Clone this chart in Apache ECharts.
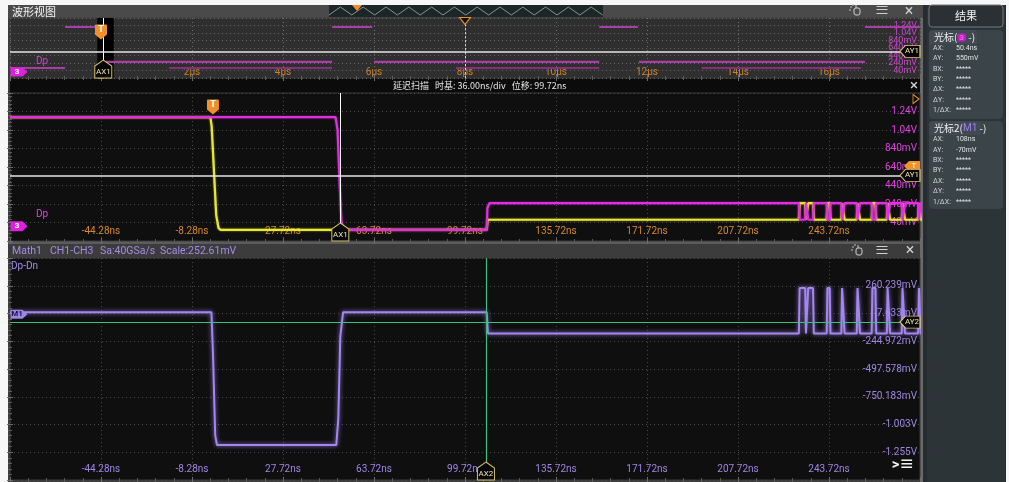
<!DOCTYPE html>
<html>
<head>
<meta charset="utf-8">
<script src="https://cdn.jsdelivr.net/npm/echarts@6/dist/echarts.min.js"></script>
<style>
html,body{margin:0;padding:0;background:#f7f7f7;}
#c{width:1009px;height:482px;}
</style>
</head>
<body>
<div id="c"></div>
<script>
// ---------- axis ranges and tick labels ----------
const mainTimeRange = [-80.28, 279.72];      // ns, 36 ns/div
const overviewTimeRange = [-2, 18];           // µs, 2 µs/div
const chVoltRange = [-0.16, 1.44];            // V, 200 mV/div
const mathVoltRange = [-1.507996, 0.512844];  // V, 252.605 mV/div

const mainTimeLabels = ['-44.28ns','-8.28ns','27.72ns','63.72ns','99.72ns','135.72ns','171.72ns','207.72ns','243.72ns'];
const overviewTimeLabels = ['2μs','4μs','6μs','8μs','10μs','12μs','14μs','16μs'];
const chVoltLabels = ['1.24V','1.04V','840mV','640mV','440mV','240mV','40mV'];
const mathVoltLabels = ['260.239mV','7.633mV','-244.972mV','-497.578mV','-750.183mV','-1.003V','-1.255V'];

// ---------- waveform values ----------
// CH1 (yellow) and CH3 / Dp (magenta): [time ns, volts]
const ch1Edges = [[-80.28,1.18],[-1.0,1.18],[-0.5,1.08],[1.3,0.12],[2.2,-0.02],[3.0,-0.04],[108.3,-0.04],[108.7,0.07]];
const ch3Edges = [[-80.28,1.18],[48.5,1.18],[49.3,1.04],[50.0,0.55],[50.8,0.06],[51.6,-0.04],[108.3,-0.04],[108.6,0.2],[109.4,0.25]];
// Math1 = CH1-CH3 (Dp-Dn): [time ns, volts]
const mathEdges = [[-80.28,0.02],[-0.6,0.02],[0.0,-0.35],[0.9,-1.1],[1.6,-1.19],[48.8,-1.19],[49.6,-0.95],[50.4,-0.2],[51.5,0.02],[108.3,0.02],[108.8,-0.175]];
// toggling burst at the end of the record: [start ns, end ns]
const burstPulses = [[231.8,234.3],[235.2,237.4],[242.8,244.0],[248.6,249.6],[254.7,255.7],[260.6,262.1],[266.6,267.6],[272.5,273.5],[279.0,279.72]];
const ch1BurstLevels = [0.07, 0.25];    // idle, pulse (V)
const ch3BurstLevels = [0.25, 0.07];
const mathBurstLevels = [-0.175, 0.24];

// Overview record of Dp: [start µs, end µs, volts]
const ch3OverviewSegments = [[-2.0,-0.79,0.107],[-0.79,-0.04,1.2],[0.11,5.08,0.27],[5.08,5.96,1.2],[6.0,10.95,0.27],[10.95,11.8,1.2],[11.82,16.79,0.27],[16.79,18.0,1.2]];
const ch3OverviewLower = [[1.5,5.08,0.107],[7.8,10.95,0.107],[13.2,16.7,0.107]];

// cursors and trigger
const cursorA = {x: 50.4, y: 0.55};     // ns, V on Dp
const cursorB = {x: 108, y: -0.07};     // ns, V on Math1
const triggerTime = 0;                  // ns
const triggerLevel = 0.65;              // V
const overviewCenter = 8;               // µs

const cursorRows = ['AX:','AY:','BX:','BY:','ΔX:','ΔY:','1/ΔX:'];
const cursor1Values = ['50.4ns','550mV','*****','*****','*****','*****','*****'];
const cursor2Values = ['108ns','-70mV','*****','*****','*****','*****','*****'];

// ---------- helpers ----------
const FONT = 'Roboto, "Noto Sans", "Noto Sans CJK SC", sans-serif';
const CJK = '"Noto Sans CJK SC", sans-serif';
const EDGE = 0.3; // ns rise time used for burst pulse edges

function withBurst(edges, levels) {
  const pts = edges.slice();
  burstPulses.forEach(([s, e]) => {
    pts.push([s, levels[0]], [s + EDGE, levels[1]], [e, levels[1]], [e + EDGE, levels[0]]);
  });
  pts.push([mainTimeRange[1] + 1, levels[0]]);
  return pts;
}
function segmentsToLine(segs) {
  const out = [];
  segs.forEach(([s, e, v]) => { out.push([s, v], [e, v], [e, null]); });
  return out;
}

const TICK = {show:true, inside:true, length:3, lineStyle:{color:'#6c6c6c', width:1}};
const MINOR = {show:true, splitNumber:5, length:2, lineStyle:{color:'#5a5a5a', width:1}};
function divAxis(gridIndex, position, max, extra) {
  return Object.assign({
    gridIndex, type:'value', position, min:0, max, interval:1,
    axisLine:{show:false}, axisTick:TICK, minorTick:MINOR,
    splitLine:{show:false}, axisLabel:{show:false}
  }, extra || {});
}
function gridLines(color) { return {show:true, lineStyle:{color, type:[1,3], width:1}}; }

// marker shapes
const PIN = 'path://M1,0 L11,0 Q12,0 12,1 L12,10 L6,15 L0,10 L0,1 Q0,0 1,0 Z';
const HOUSE = 'path://M8,0 L16,6 L16,18 L0,18 L0,6 Z';
const LEFT_TAG = 'path://M0,6 L6,0 L22,0 L22,12 L6,12 Z';
const RIGHT_TAG = 'path://M0,0 L12,0 L17,5 L12,10 L0,10 Z';

function trigPin(coord) {
  return {coord, symbol:PIN, symbolSize:[12,15], symbolOffset:[0,14],
    itemStyle:{color:'#f0902a'},
    label:{show:true, position:'inside', formatter:'T', color:'#fff', fontSize:9, fontWeight:'bold', fontFamily:FONT, offset:[0,-2]}};
}
function xCursorTag(name, coord) {
  return {coord, symbol:HOUSE, symbolSize:[17,18], symbolOffset:[0,-9],
    itemStyle:{color:'#060606', borderColor:'#d8c46a', borderWidth:1},
    label:{show:true, position:'inside', formatter:name, color:'#efe6b0', fontSize:8, fontFamily:FONT, offset:[0,3]}};
}
function yCursorTag(name, coord) {
  return {coord, symbol:LEFT_TAG, symbolSize:[20,12], symbolOffset:[-10,0],
    itemStyle:{color:'#060606', borderColor:'#d8c46a', borderWidth:1},
    label:{show:true, position:'inside', formatter:name, color:'#efe6b0', fontSize:8, fontFamily:FONT, offset:[2,0]}};
}
function chanTag(text, coord, fill, textColor, w, h) {
  return {coord, symbol:RIGHT_TAG, symbolSize:[w,h], symbolOffset:[w/2 + 0.5, 0],
    itemStyle:{color:fill},
    label:{show:true, position:'inside', formatter:text, color:textColor, fontSize:8, fontWeight:'bold', fontFamily:FONT, offset:[-2,0]}};
}

const overviewWindow = [mainTimeRange[0] / 1000, mainTimeRange[1] / 1000];

// ---------- chart ----------
const chart = echarts.init(document.getElementById('c'), null, {renderer:'canvas', width:1009, height:482});

// zig-zag of the memory sweep indicator in the title bar
const sweepPts = [];
for (let x = 329, k = 0; x <= 603; x += 11.4, k++) sweepPts.push([x, k % 2 ? 7 : 15]);

function rowTexts(values, top) {
  const els = [];
  cursorRows.forEach((r, i) => {
    const y = top + i * 10.4;
    els.push({type:'text', x:933, y, z:101, style:{text:r, fill:'#d6d6d6', font:'7px ' + FONT, verticalAlign:'middle'}});
    els.push({type:'text', x:956, y, z:101, style:{text:values[i], fill:'#e4e4e4', font:'7px ' + FONT, verticalAlign:'middle'}});
  });
  return els;
}
function handIcon(x, y) {
  return [
    {type:'rect', z:100, shape:{x:x, y:y, width:6, height:7, r:2}, style:{fill:'none', stroke:'#d0d0d0', lineWidth:1}},
    {type:'line', z:100, shape:{x1:x+2, y1:y-3, x2:x+2, y2:y}, style:{stroke:'#d0d0d0', lineWidth:1}},
    {type:'circle', z:100, shape:{cx:x-3, cy:y-1, r:0.8}, style:{fill:'#d0d0d0'}},
    {type:'circle', z:100, shape:{cx:x-4, cy:y+2, r:0.8}, style:{fill:'#d0d0d0'}},
    {type:'circle', z:100, shape:{cx:x-1, cy:y-3, r:0.8}, style:{fill:'#d0d0d0'}}
  ];
}

const graphics = [
  // frames
  {type:'rect', z:-10, silent:true, shape:{x:8, y:5, width:917, height:477}, style:{fill:'#3b3b3b'}},
  {type:'rect', z:-9, silent:true, shape:{x:8, y:5, width:917, height:13}, style:{fill:'#4a4a4a'}},
  {type:'rect', z:-9, silent:true, shape:{x:10, y:78, width:912, height:15}, style:{fill:'#0b0b0b'}},
  {type:'rect', z:-9, silent:true, shape:{x:8, y:241, width:917, height:3}, style:{fill:'#5c5c5c'}},
  {type:'rect', z:-9, silent:true, shape:{x:8, y:244, width:917, height:14}, style:{fill:'#3c3c3c'}},
  {type:'rect', z:-9, silent:true, shape:{x:920, y:18, width:3, height:464}, style:{fill:'#6a6a6a'}},
  {type:'rect', z:-9, silent:true, shape:{x:923, y:5, width:83, height:477}, style:{fill:'#262c30'}},
  {type:'rect', z:-8, silent:true, shape:{x:927, y:5, width:78, height:477}, style:{fill:'#2d3438'}},
  // title bar
  {type:'text', x:12, y:11.5, z:100, style:{text:'波形视图', fill:'#f4f4f4', font:'11px ' + CJK, verticalAlign:'middle'}},
  {type:'rect', z:99, shape:{x:329, y:5, width:274, height:12}, style:{fill:'#1d2626'}},
  {type:'polyline', z:100, shape:{points:sweepPts}, style:{stroke:'#8a9090', lineWidth:1, fill:null}},
  {type:'polygon', z:101, shape:{points:[[352,5],[362,5],[357,11]]}, style:{fill:'#f0902a'}},
  {type:'text', x:882, y:11.5, z:100, style:{text:'≡', fill:'#d0d0d0', font:'15px ' + FONT, align:'center', verticalAlign:'middle'}},
  {type:'text', x:909, y:11.5, z:100, style:{text:'×', fill:'#d0d0d0', font:'16px ' + FONT, align:'center', verticalAlign:'middle'}},
  ...handIcon(854, 8),
  // delayed sweep header
  {type:'text', x:393, y:86, z:100, style:{text:'延迟扫描   时基: 36.00ns/div   位移: 99.72ns', fill:'#e6e6e6', font:'9px ' + CJK, verticalAlign:'middle'}},
  {type:'text', x:914, y:86, z:100, style:{text:'×', fill:'#d8d8d8', font:'15px ' + FONT, align:'center', verticalAlign:'middle'}},
  // math header
  {type:'text', x:12, y:251, z:100, style:{text:'Math1', fill:'#a28ee6', font:'10.5px ' + FONT, verticalAlign:'middle'}},
  {type:'text', x:50, y:251, z:100, style:{text:'CH1-CH3', fill:'#a28ee6', font:'10.5px ' + FONT, verticalAlign:'middle'}},
  {type:'text', x:100, y:251, z:100, style:{text:'Sa:40GSa/s', fill:'#a28ee6', font:'10.5px ' + FONT, verticalAlign:'middle'}},
  {type:'text', x:160, y:251, z:100, style:{text:'Scale:252.61mV', fill:'#a28ee6', font:'10.5px ' + FONT, verticalAlign:'middle'}},
  {type:'text', x:882, y:251, z:100, style:{text:'≡', fill:'#d0d0d0', font:'15px ' + FONT, align:'center', verticalAlign:'middle'}},
  {type:'text', x:910, y:251, z:100, style:{text:'×', fill:'#d0d0d0', font:'16px ' + FONT, align:'center', verticalAlign:'middle'}},
  ...handIcon(856, 248),
  // channel names
  {type:'text', x:36, y:61, z:100, style:{text:'Dp', fill:'#d63cd6', font:'10px ' + FONT, verticalAlign:'middle'}},
  {type:'text', x:36, y:214, z:100, style:{text:'Dp', fill:'#e040e0', font:'10px ' + FONT, verticalAlign:'middle'}},
  {type:'text', x:11, y:266, z:100, style:{text:'Dp-Dn', fill:'#a28ee6', font:'10px ' + FONT, verticalAlign:'middle'}},
  // menu glyph in math window
  {type:'text', x:903, y:465, z:100, style:{text:'>≡', fill:'#f0f0f0', font:'bold 15px ' + FONT, align:'center', verticalAlign:'middle'}},
  // results panel
  {type:'rect', z:100, shape:{x:929, y:5, width:74, height:22, r:3}, style:{fill:'#2a3034', stroke:'#737b80', lineWidth:1}},
  {type:'text', x:966, y:16, z:101, style:{text:'结果', fill:'#f0f0f0', font:'11px ' + CJK, align:'center', verticalAlign:'middle'}},
  {type:'rect', z:100, shape:{x:929, y:30, width:74, height:89, r:4}, style:{fill:'#3a4449'}},
  {type:'rect', z:100, shape:{x:929, y:30, width:48, height:14, r:[4,4,0,0]}, style:{fill:'#404a50'}},
  {type:'text', x:934, y:37.5, z:101, style:{text:'{a|光标(}{b| 3 }{a| -)}', rich:{a:{fill:'#f0f0f0', font:'10px ' + CJK}, b:{fill:'#f060f0', backgroundColor:'#c020c0', font:'bold 8px ' + FONT, borderRadius:2}}, verticalAlign:'middle'}},
  ...rowTexts(cursor1Values, 48),
  {type:'rect', z:100, shape:{x:929, y:121, width:74, height:88, r:4}, style:{fill:'#3a4449'}},
  {type:'rect', z:100, shape:{x:929, y:121, width:52, height:14, r:[4,4,0,0]}, style:{fill:'#404a50'}},
  {type:'text', x:934, y:128.5, z:101, style:{text:'{a|光标2(}{b|M1}{a| -)}', rich:{a:{fill:'#f0f0f0', font:'10px ' + CJK}, b:{fill:'#9d82f2', font:'10px ' + FONT}}, verticalAlign:'middle'}},
  ...rowTexts(cursor2Values, 139.5)
];

const option = {
  animation: false,
  backgroundColor: 'transparent',
  textStyle: {fontFamily: FONT},
  graphic: graphics,
  grid: [
    {left:10, top:18, width:910, height:60, show:true, backgroundColor:'#2f2f2f', borderColor:'#3f3f3f', borderWidth:1, outerBoundsMode:'none'},
    {left:10, top:93, width:910, height:148, show:true, backgroundColor:'#0f0f0f', borderColor:'#3a3a3a', borderWidth:1, outerBoundsMode:'none'},
    {left:10, top:258, width:910, height:222, show:true, backgroundColor:'#0f0f0f', borderColor:'#3a3a3a', borderWidth:1, outerBoundsMode:'none'}
  ],
  xAxis: [
    // 0: overview time (µs)
    {gridIndex:0, type:'value', position:'bottom', min:overviewTimeRange[0], max:overviewTimeRange[1], interval:2,
      axisLine:{show:false}, axisTick:TICK, minorTick:MINOR, splitLine:gridLines('#707070'),
      axisLabel:{show:true, inside:true, margin:1, color:'#c8822a', fontSize:10, fontFamily:FONT,
        formatter: v => overviewTimeLabels[v / 2 - 1] || ''}},
    // 1: overview top ticks
    {gridIndex:0, type:'value', position:'top', min:overviewTimeRange[0], max:overviewTimeRange[1], interval:2,
      axisLine:{show:false}, axisTick:TICK, minorTick:MINOR, splitLine:{show:false}, axisLabel:{show:false}},
    // 2: main divisions
    divAxis(1, 'bottom', 10, {splitLine:gridLines('#4c4c4c'),
      axisLabel:{show:true, inside:true, margin:5, color:'#d98a2e', fontSize:10, fontFamily:FONT,
        formatter: v => mainTimeLabels[v - 1] || ''}}),
    // 3: main top ticks
    divAxis(1, 'top', 10),
    // 4: main time (ns)
    {gridIndex:1, type:'value', min:mainTimeRange[0], max:mainTimeRange[1], show:false},
    // 5: math divisions
    divAxis(2, 'bottom', 10, {splitLine:gridLines('#4c4c4c'),
      axisLabel:{show:true, inside:true, margin:6, color:'#9d88e4', fontSize:10, fontFamily:FONT,
        formatter: v => mainTimeLabels[v - 1] || ''}}),
    // 6: math top ticks
    divAxis(2, 'top', 10),
    // 7: math time (ns)
    {gridIndex:2, type:'value', min:mainTimeRange[0], max:mainTimeRange[1], show:false}
  ],
  yAxis: [
    // 0: overview divisions + labels
    divAxis(0, 'right', 8, {splitLine:gridLines('#656565'),
      axisLabel:{show:true, inside:true, margin:3, color:'#d040d0', fontSize:9, fontFamily:FONT, padding:[3,0,0,0],
        formatter: v => chVoltLabels[7 - v] || ''}}),
    // 1: overview left ticks
    divAxis(0, 'left', 8),
    // 2: overview volts
    {gridIndex:0, type:'value', min:chVoltRange[0], max:chVoltRange[1], show:false},
    // 3: main divisions + labels
    divAxis(1, 'right', 8, {splitLine:gridLines('#4c4c4c'),
      axisLabel:{show:true, inside:true, margin:3, color:'#e040e0', fontSize:10, fontFamily:FONT, padding:[4,0,0,0],
        formatter: v => chVoltLabels[7 - v] || ''}}),
    // 4: main left ticks
    divAxis(1, 'left', 8),
    // 5: main volts
    {gridIndex:1, type:'value', min:chVoltRange[0], max:chVoltRange[1], show:false},
    // 6: math divisions + labels
    divAxis(2, 'right', 8, {splitLine:gridLines('#4c4c4c'),
      axisLabel:{show:true, inside:true, margin:3, color:'#9d88e4', fontSize:10, fontFamily:FONT, padding:[4,0,0,0],
        formatter: v => mathVoltLabels[7 - v] || ''}}),
    // 7: math left ticks
    divAxis(2, 'left', 8),
    // 8: math volts
    {gridIndex:2, type:'value', min:mathVoltRange[0], max:mathVoltRange[1], show:false}
  ],
  series: [
    // ----- overview -----
    {type:'line', name:'Dp lower envelope', xAxisIndex:0, yAxisIndex:2, data:segmentsToLine(ch3OverviewLower),
      showSymbol:false, silent:true, connectNulls:false, lineStyle:{color:'#84307f', width:2},
      markArea:{silent:true, itemStyle:{color:'#000000'}, data:[[{xAxis:overviewWindow[0]},{xAxis:overviewWindow[1]}]]}},
    {type:'line', name:'Dp overview', xAxisIndex:0, yAxisIndex:2, data:segmentsToLine(ch3OverviewSegments),
      showSymbol:false, silent:true, connectNulls:false, lineStyle:{color:'#a83ca8', width:2.2},
      markLine:{silent:true, symbol:['none','none'], label:{show:false},
        data:[
          {xAxis:overviewCenter, lineStyle:{color:'#d0d0d0', type:[2,2], width:1}},
          {xAxis:cursorA.x / 1000, lineStyle:{color:'#ffffff', type:'solid', width:1}},
          {yAxis:cursorA.y, lineStyle:{color:'#e6e6e6', type:'solid', width:1.5}}
        ]},
      markPoint:{silent:true, data:[
        trigPin([triggerTime / 1000, chVoltRange[1]]),
        xCursorTag('AX1', [cursorA.x / 1000, chVoltRange[0]]),
        chanTag('3', [overviewTimeRange[0], 0], '#e020e0', '#ffffff', 17, 9),
        yCursorTag('AY1', [overviewTimeRange[1], cursorA.y]),
        {coord:[overviewCenter, chVoltRange[1]], symbol:'triangle', symbolRotate:180, symbolSize:[11,7], symbolOffset:[0,3],
          itemStyle:{color:'#111', borderColor:'#f0902a', borderWidth:1}, label:{show:false}}
      ]}},
    // ----- delayed sweep -----
    {type:'line', name:'CH1', xAxisIndex:4, yAxisIndex:5, data:withBurst(ch1Edges, ch1BurstLevels),
      showSymbol:false, silent:true, lineStyle:{color:'#e8e82c', width:2.2, shadowBlur:2, shadowColor:'rgba(232,232,44,0.6)'}},
    {type:'line', name:'Dp', xAxisIndex:4, yAxisIndex:5, data:withBurst(ch3Edges, ch3BurstLevels),
      showSymbol:false, silent:true, lineStyle:{color:'#e02ee0', width:2.2, shadowBlur:2, shadowColor:'rgba(224,46,224,0.6)'},
      markLine:{silent:true, symbol:['none','none'], label:{show:false},
        data:[
          {xAxis:cursorA.x, lineStyle:{color:'#ffffff', type:'solid', width:1}},
          {yAxis:cursorA.y, lineStyle:{color:'#e6e6e6', type:'solid', width:1.5}}
        ]},
      markPoint:{silent:true, data:[
        trigPin([triggerTime, chVoltRange[1]]),
        xCursorTag('AX1', [cursorA.x, chVoltRange[0]]),
        chanTag('3', [mainTimeRange[0], 0], '#e020e0', '#ffffff', 17, 10),
        {coord:[mainTimeRange[1], triggerLevel], symbol:'path://M0,5 L5,0 L16,0 L16,10 L5,10 Z', symbolSize:[16,10], symbolOffset:[-8,0],
          itemStyle:{color:'#f0922a'}, label:{show:true, position:'inside', formatter:'T', color:'#fff', fontSize:8, fontFamily:FONT, offset:[2,0]}},
        yCursorTag('AY1', [mainTimeRange[1], cursorA.y]),
        {coord:[mainTimeRange[1], chVoltRange[1]], symbol:'triangle', symbolRotate:-90, symbolSize:[9,6], symbolOffset:[-4,6],
          itemStyle:{color:'rgba(0,0,0,0)', borderColor:'#f0922a', borderWidth:1}, label:{show:false}}
      ]}},
    // ----- math -----
    {type:'line', name:'Dp-Dn', xAxisIndex:7, yAxisIndex:8, data:withBurst(mathEdges, mathBurstLevels),
      showSymbol:false, silent:true, lineStyle:{color:'#a486f0', width:2, shadowBlur:4, shadowColor:'rgba(164,134,240,0.9)'},
      markLine:{silent:true, symbol:['none','none'], label:{show:false},
        data:[
          {xAxis:cursorB.x, lineStyle:{color:'#3cc07c', type:'solid', width:1.2}},
          {yAxis:cursorB.y, lineStyle:{color:'#3cc07c', type:'solid', width:1.2}}
        ]},
      markPoint:{silent:true, data:[
        chanTag('M1', [mainTimeRange[0], 0], '#9d86e6', '#1a1440', 17, 9),
        xCursorTag('AX2', [cursorB.x, mathVoltRange[0]]),
        yCursorTag('AY2', [mainTimeRange[1], cursorB.y])
      ]}}
  ]
};

chart.setOption(option);
</script>
</body>
</html>
